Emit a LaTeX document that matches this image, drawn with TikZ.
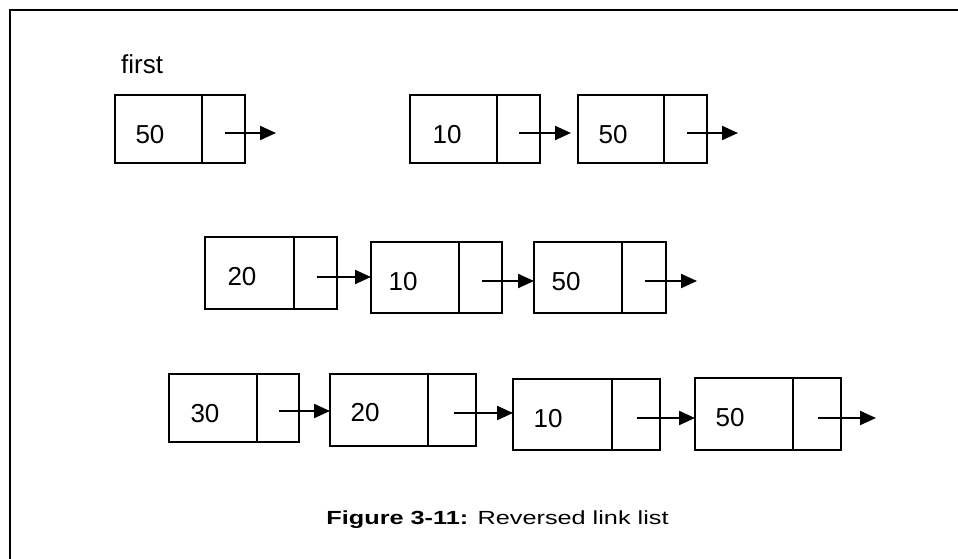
\documentclass[tikz,border=0pt]{standalone}
\usepackage{fontspec}
\setmainfont{Liberation Sans}
\usetikzlibrary{arrows.meta}

% one list node: data cell (#1d) and pointer cell (#1p)
% #2 left, #3 top, #4 divider, #5 right, #6 bottom
\newcommand\listcell[6]{%
  \node[cellbox, minimum width={#4-#2}, minimum height={#6-#3}]
    (#1d) at ({(#2+#4)/2},{(#3+#6)/2}) {};
  \node[cellbox, minimum width={#5-#4}, minimum height={#6-#3}]
    (#1p) at ({(#4+#5)/2},{(#3+#6)/2}) {};
}

\begin{document}
\begin{tikzpicture}[x=1pt, y=-1pt,
  cellbox/.style={draw, line width=1.8pt, inner sep=0pt, outer sep=0pt},
  value/.style={inner sep=0pt, font=\fontsize{26}{26}\selectfont},
  link/.style={line width=2.2pt, -{Triangle[length=16pt, width=14pt]}},
  frame/.style={line width=2.5pt}]
\useasboundingbox (0,0) rectangle (958,559);

% page frame (top and left edges)
\draw[frame] (958,10) -- (10,10) -- (10,559);

% row 1
\node[inner sep=0pt, anchor=base west, font=\fontsize{26}{26}\selectfont] (lblfirst) at (121,74) {first};
\listcell{a}{115}{95}{202}{245}{163}
\listcell{b}{410}{95}{497}{540}{163}
\listcell{c}{578}{95}{664}{707}{163}
\node[value] (at) at (150,135) {50};
\node[value] (bt) at (447,134.5) {10};
\node[value] (ct) at (613,134.5) {50};
\coordinate (as) at (225,133);  \coordinate (ae) at (276,133);
\coordinate (bs) at (519,133);
\coordinate (cs) at (687,133);  \coordinate (ce) at (738,133);
\draw[link] (as) -- (ae);
\draw[link, shorten >=7pt] (bs) -- (bs -| cd.west);
\draw[link] (cs) -- (ce);

% row 2
\listcell{d}{205}{237}{294}{337}{309}
\listcell{e}{371}{242}{459}{502}{313}
\listcell{f}{534}{242}{622}{666}{313}
\node[value] (dt) at (242,276.5) {20};
\node[value] (et) at (403,282) {10};
\node[value] (ft) at (566,282) {50};
\coordinate (ds) at (317,277);
\coordinate (es) at (482,281);
\coordinate (fs) at (645,281);  \coordinate (fe) at (697,281);
\draw[link] (ds) -- (ds -| ed.west);
\draw[link] (es) -- (es -| fd.west);
\draw[link] (fs) -- (fe);

% row 3
\listcell{g}{169}{374}{257}{299}{442}
\listcell{h}{330}{374}{428}{476}{446}
\listcell{i}{513}{379}{612}{660}{450}
\listcell{j}{695}{378}{793}{841}{450}
\node[value] (gt) at (205,414) {30};
\node[value] (ht) at (365,413) {20};
\node[value] (it) at (548,419) {10};
\node[value] (jt) at (730,417.5) {50};
\coordinate (gs) at (279,411);
\coordinate (hs) at (454,413);
\coordinate (is) at (637,418);
\coordinate (js) at (818,418);  \coordinate (je) at (876,418);
\draw[link] (gs) -- (gs -| hd.west);
\draw[link] (hs) -- (hs -| id.west);
\draw[link] (is) -- (is -| jd.west);
\draw[link] (js) -- (je);

% caption
\node[inner sep=0pt, anchor=base, font=\fontsize{19}{19}\selectfont] (caption) at (497.5,524)
  {\scalebox{1.33}[1]{\textbf{Figure 3-11:} Reversed link list}};
\end{tikzpicture}
\end{document}
